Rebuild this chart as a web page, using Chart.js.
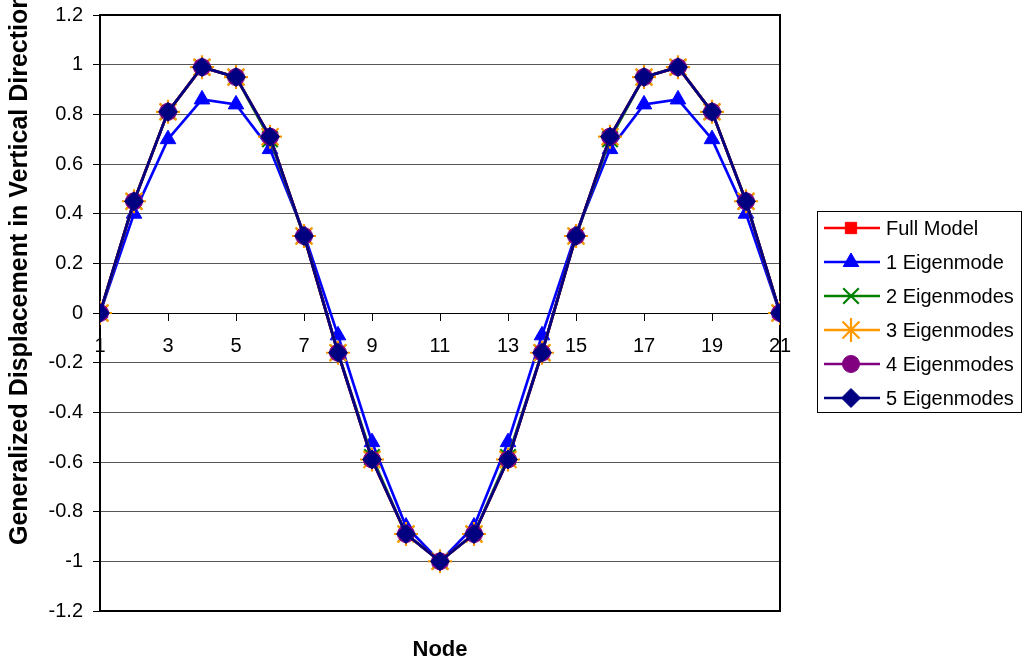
<!DOCTYPE html>
<html>
<head>
<meta charset="utf-8">
<script src="https://cdn.jsdelivr.net/npm/chart.js"></script>
<style>
  html, body { margin: 0; padding: 0; background: #fff; }
  #grafico { display: block; }
</style>
</head>
<body>
<canvas id="grafico" width="1024" height="666"></canvas>
<script>
// valores
const nodes = [1, 2, 3, 4, 5, 6, 7, 8, 9, 10, 11, 12, 13, 14, 15, 16, 17, 18, 19, 20, 21];
const fullModel = [0, 0.45, 0.81, 0.99, 0.95, 0.71, 0.31, -0.16, -0.59, -0.89, -1.0, -0.89, -0.59, -0.16, 0.31, 0.71, 0.95, 0.99, 0.81, 0.45, 0];
const eig1 = [0, 0.40, 0.70, 0.86, 0.84, 0.66, 0.32, -0.09, -0.52, -0.86, -1.0, -0.86, -0.52, -0.09, 0.32, 0.66, 0.84, 0.86, 0.70, 0.40, 0];
const eig2 = [0, 0.45, 0.81, 0.99, 0.95, 0.70, 0.31, -0.16, -0.58, -0.89, -1.0, -0.89, -0.58, -0.16, 0.31, 0.70, 0.95, 0.99, 0.81, 0.45, 0];
const eig3 = [0, 0.45, 0.81, 0.99, 0.95, 0.71, 0.31, -0.16, -0.59, -0.89, -1.0, -0.89, -0.59, -0.16, 0.31, 0.71, 0.95, 0.99, 0.81, 0.45, 0];
const eig4 = [0, 0.45, 0.81, 0.99, 0.95, 0.71, 0.31, -0.16, -0.59, -0.89, -1.0, -0.89, -0.59, -0.16, 0.31, 0.71, 0.95, 0.99, 0.81, 0.45, 0];
const eig5 = [0, 0.45, 0.81, 0.99, 0.95, 0.71, 0.31, -0.16, -0.59, -0.89, -1.0, -0.89, -0.59, -0.16, 0.31, 0.71, 0.95, 0.99, 0.81, 0.45, 0];

const seriesNames = ['Full Model', '1 Eigenmode', '2 Eigenmodes', '3 Eigenmodes', '4 Eigenmodes', '5 Eigenmodes'];
const yTicks = [-1.2, -1, -0.8, -0.6, -0.4, -0.2, 0, 0.2, 0.4, 0.6, 0.8, 1, 1.2];
const xTitle = 'Node';
const yTitle = 'Generalized Displacement in Vertical Direction';

const FUENTE = "'Liberation Sans', Arial, sans-serif";

const toPoints = (vals) => nodes.map((n, i) => ({ x: n, y: vals[i] }));

const estilos = [
  { color: '#ff0000', pointStyle: 'rect', radius: 8 },
  { color: '#0000ff', pointStyle: 'triangle', radius: 9 },
  { color: '#008000', pointStyle: 'crossRot', radius: 11 },
  { color: '#ff9900', pointStyle: 'star', radius: 12 },
  { color: '#800080', pointStyle: 'circle', radius: 8.5 },
  { color: '#000080', pointStyle: 'rectRot', radius: 9.5 }
];

const valores = [fullModel, eig1, eig2, eig3, eig4, eig5];

const datasets = valores.map((vals, i) => ({
  label: seriesNames[i],
  data: toPoints(vals),
  borderColor: estilos[i].color,
  backgroundColor: estilos[i].color,
  pointBorderColor: estilos[i].color,
  pointBackgroundColor: estilos[i].color,
  pointStyle: estilos[i].pointStyle,
  pointRadius: estilos[i].radius,
  pointBorderWidth: (estilos[i].pointStyle === 'star' || estilos[i].pointStyle === 'crossRot') ? 2.2 : 1,
  borderWidth: 2.7,
  tension: 0,
  fill: false,
  // el ultimo encima
  order: valores.length - i
}));

// marco del area del grafico
const marcoPlugin = {
  id: 'marco',
  beforeDatasetsDraw(chart) {
    const { ctx, chartArea: a } = chart;
    ctx.save();
    ctx.strokeStyle = '#000';
    ctx.lineWidth = 2;
    ctx.strokeRect(a.left, a.top, a.right - a.left, a.bottom - a.top);
    ctx.restore();
  }
};

// titulos de ejes
const titulosPlugin = {
  id: 'titulos',
  afterDraw(chart) {
    const { ctx, chartArea: a } = chart;
    ctx.save();
    ctx.fillStyle = '#000';
    ctx.font = 'bold 22px ' + FUENTE;
    ctx.textAlign = 'center';
    ctx.textBaseline = 'middle';
    ctx.fillText(xTitle, (a.left + a.right) / 2, 650);

    ctx.font = 'bold 25px ' + FUENTE;
    const largo = ctx.measureText(yTitle).width;
    ctx.translate(20, 545 - largo / 2);
    ctx.rotate(-Math.PI / 2);
    ctx.fillText(yTitle, 0, 0);
    ctx.restore();
  }
};

// leyenda con caja
const leyendaPlugin = {
  id: 'leyendaCaja',
  afterDraw(chart) {
    const ctx = chart.ctx;
    ctx.save();
    ctx.fillStyle = '#fff';
    ctx.fillRect(817, 211, 204, 202);
    ctx.strokeStyle = '#000';
    ctx.lineWidth = 1;
    ctx.strokeRect(817.5, 211.5, 204, 201);
    chart.data.datasets.forEach((ds, i) => {
      const y = 228 + i * 34;
      ctx.strokeStyle = ds.borderColor;
      ctx.lineWidth = 2.5;
      ctx.beginPath();
      ctx.moveTo(824, y);
      ctx.lineTo(880, y);
      ctx.stroke();
      ctx.fillStyle = ds.pointBackgroundColor;
      ctx.strokeStyle = ds.pointBorderColor;
      ctx.lineWidth = ds.pointBorderWidth;
      Chart.helpers.drawPoint(ctx, {
        pointStyle: ds.pointStyle,
        radius: ds.pointRadius,
        rotation: 0,
        borderWidth: ds.pointBorderWidth
      }, 851, y);
      ctx.fillStyle = '#000';
      ctx.font = '20px ' + FUENTE;
      ctx.textAlign = 'left';
      ctx.textBaseline = 'middle';
      ctx.fillText(ds.label, 886, y + 1);
    });
    ctx.restore();
  }
};

const ctx = document.getElementById('grafico').getContext('2d');
const grafico = new Chart(ctx, {
  type: 'line',
  data: { datasets },
  plugins: [marcoPlugin, titulosPlugin, leyendaPlugin],
  options: {
    responsive: false,
    animation: false,
    layout: { padding: { left: 0, top: 15, right: 244, bottom: 55 } },
    plugins: {
      legend: { display: false },
      title: { display: false },
      tooltip: { enabled: false }
    },
    scales: {
      x: {
        type: 'linear',
        position: { y: 0 },
        min: 1,
        max: 21,
        afterFit: (s) => { s.paddingLeft = 0; s.paddingRight = 0; },
        ticks: {
          stepSize: 2,
          autoSkip: false,
          maxRotation: 0,
          color: '#000',
          padding: 14,
          font: { family: FUENTE, size: 20 }
        },
        grid: { drawOnChartArea: false, tickLength: 7, tickColor: '#000' },
        border: { color: '#000', width: 1 }
      },
      y: {
        min: -1.2,
        max: 1.2,
        afterBuildTicks: (s) => { s.ticks = yTicks.map(v => ({ value: v })); },
        afterFit: (s) => { s.width = 100; s.paddingTop = 0; s.paddingBottom = 0; },
        ticks: {
          color: '#000',
          padding: 10,
          font: { family: FUENTE, size: 20 },
          callback: (v) => String(Number(v.toFixed(1)))
        },
        grid: {
          color: (c) => (c.tick && c.tick.value === 0 ? '#000' : '#555'),
          tickLength: 7,
          tickColor: '#000'
        },
        border: { display: false }
      }
    }
  }
});
</script>
</body>
</html>
